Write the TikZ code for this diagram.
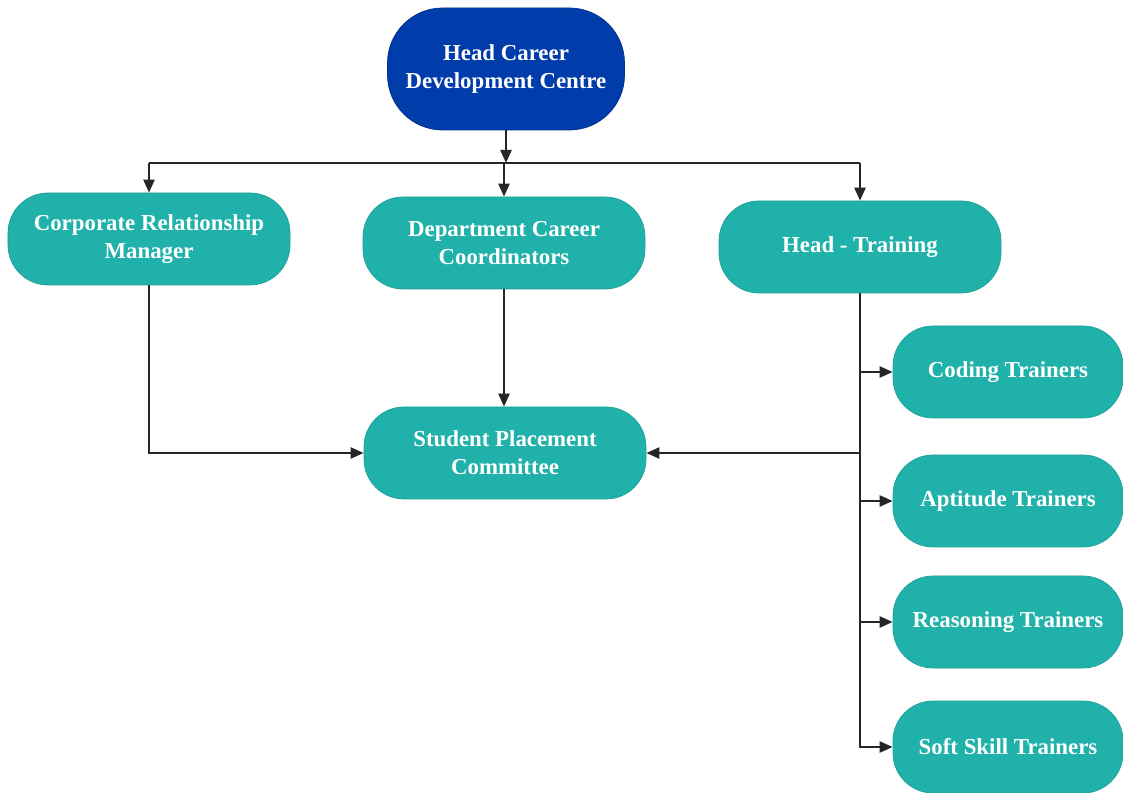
\documentclass[tikz,border=0pt]{standalone}
\usepackage{fontspec}
\setmainfont{Liberation Serif}
\usepackage{xcolor}
\usetikzlibrary{arrows.meta, positioning}
\definecolor{headblue}{RGB}{0, 60, 170}
\definecolor{tealbox}{RGB}{32, 178, 170}

\begin{document}
\begin{tikzpicture}[
    head/.style={fill=headblue, draw=headblue!80!black, rounded corners=1.1cm, minimum width=4.74cm,
                 minimum height=2.44cm, align=center, text=white, font=\fontsize{13}{16}\selectfont\bfseries},
    unit/.style={fill=tealbox, draw=tealbox!90!black, rounded corners=0.8cm, minimum width=5.64cm,
                 minimum height=1.84cm, align=center, text=white, font=\fontsize{13}{16}\selectfont\bfseries},
    trainer/.style={unit, minimum width=4.6cm},
    line/.style={line width=1.3pt, black!85},
    arrow/.style={line, -{Triangle[length=2.6mm, width=2.2mm]}}
]
    \useasboundingbox (0,0) rectangle (22.46,-15.86);

    \node[head] (head) at (10.12,-1.38) {Head Career\\Development Centre};
    \node[unit] (crm) at (2.98,-4.78) {Corporate Relationship\\Manager};
    \node[unit] (dcc) at (10.08,-4.86) {Department Career\\Coordinators};
    \node[unit] (htr) at (17.2,-4.94) {Head - Training};
    \node[unit] (spc) at (10.1,-9.06) {Student Placement\\Committee};

    \node[trainer] (coding) at (20.16,-7.44) {Coding Trainers};
    \node[trainer] (aptitude) at (20.16,-10.02) {Aptitude Trainers};
    \node[trainer] (reasoning) at (20.16,-12.44) {Reasoning Trainers};
    \node[trainer] (softskill) at (20.16,-14.94) {Soft Skill Trainers};

    \coordinate (bus) at (10.12,-3.26);

    % top level
    \draw[arrow] (head.south) -- (bus);
    \draw[line] (crm.north |- bus) -- (htr.north |- bus);
    \draw[arrow] (crm.north |- bus) -- (crm.north);
    \draw[arrow] (dcc.north |- bus) -- (dcc.north);
    \draw[arrow] (htr.north |- bus) -- (htr.north);

    % placement committee
    \draw[arrow] (crm.south) |- (spc.west);
    \draw[arrow] (dcc.south) -- (dcc.south |- spc.north);
    \draw[arrow] (htr.south |- spc.east) -- (spc.east);

    % trainers
    \draw[arrow] (htr.south) |- (softskill.west);
    \draw[arrow] (htr.south |- coding.west) -- (coding.west);
    \draw[arrow] (htr.south |- aptitude.west) -- (aptitude.west);
    \draw[arrow] (htr.south |- reasoning.west) -- (reasoning.west);
\end{tikzpicture}
\end{document}
